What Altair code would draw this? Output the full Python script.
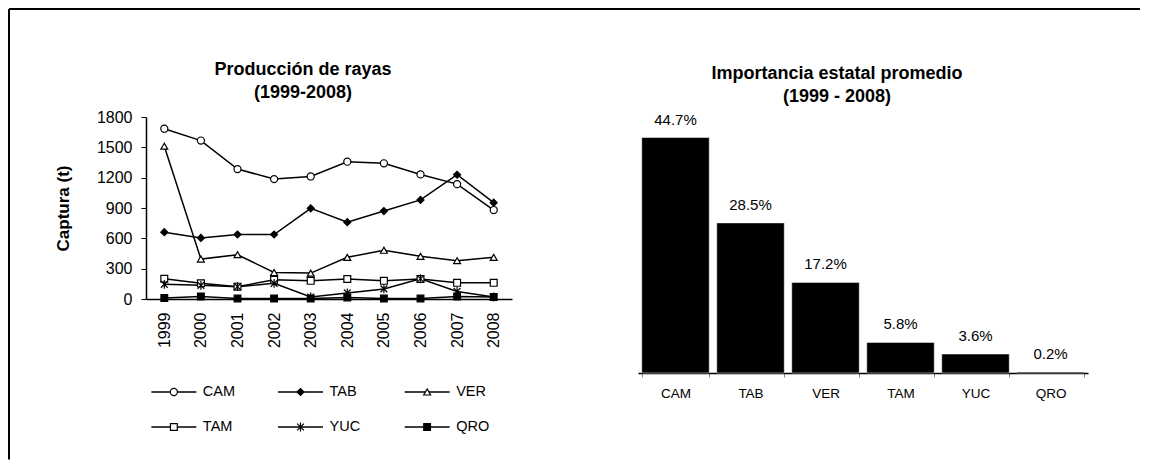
import altair as alt
import pandas as pd

years = ["1999", "2000", "2001", "2002", "2003", "2004", "2005", "2006", "2007", "2008"]
states = ["CAM", "TAB", "VER", "TAM", "YUC", "QRO"]

cam = [1684, 1567, 1285, 1186, 1212, 1358, 1342, 1232, 1136, 880]
tab = [661, 604, 638, 638, 897, 760, 870, 980, 1229, 953]
ver = [1511, 395, 438, 262, 256, 412, 482, 422, 379, 412]
tam = [200, 155, 122, 190, 180, 198, 180, 198, 160, 160]
yuc = [145, 135, 122, 155, 20, 60, 100, 200, 75, 20]
qro = [10, 25, 5, 5, 5, 15, 5, 5, 25, 20]

pct = [44.7, 28.5, 17.2, 5.8, 3.6, 0.2]
pct_labels = ["44.7%", "28.5%", "17.2%", "5.8%", "3.6%", "0.2%"]

FONT = "Liberation Sans"

series = [cam, tab, ver, tam, yuc, qro]
rows = []
for s, vals in zip(states, series):
    for yr, v in zip(years, vals):
        rows.append({"state": s, "year": yr, "captura": v})
df = pd.DataFrame(rows)

shape_scale = alt.Scale(
    domain=states,
    range=["circle", "diamond", "triangle-up", "square",
           "M-1,-1L1,1M-1,1L1,-1M0,-1.3L0,1.3", "square"],
)
fill_scale = alt.Scale(domain=states, range=["white", "black", "white", "white", "black", "black"])
size_scale = alt.Scale(domain=states, range=[50, 45, 55, 50, 50, 80])

x_line = alt.X(
    "year:O",
    scale=alt.Scale(type="point", padding=0.5),
    axis=alt.Axis(title=None, labelAngle=270, ticks=False, labelPadding=13,
                  domainColor="black", domainWidth=1.5, labelFontSize=16,
                  labelColor="black", labelFont=FONT),
)
y_line = alt.Y(
    "captura:Q",
    scale=alt.Scale(domain=[0, 1800]),
    axis=alt.Axis(title="Captura (t)", values=[0, 300, 600, 900, 1200, 1500, 1800],
                  format="d", grid=False, tickSize=5, tickColor="black",
                  domainColor="black", domainWidth=1.5, labelFontSize=16,
                  labelColor="black", labelPadding=9,
                  titleFontSize=17, titleFontWeight="bold", titlePadding=24,
                  titleColor="black", titleFont=FONT, labelFont=FONT),
)

base = alt.Chart(df)
lines = base.mark_line(color="black", strokeWidth=1.5).encode(
    x=x_line, y=y_line, detail="state:N"
)
points = base.mark_point(stroke="black", strokeWidth=1.2, opacity=1).encode(
    x=x_line, y=y_line,
    shape=alt.Shape("state:N", scale=shape_scale, legend=None),
    fill=alt.Fill("state:N", scale=fill_scale, legend=None),
    size=alt.Size("state:N", scale=size_scale, legend=None),
)

line_chart = alt.layer(lines, points).properties(
    width=366, height=182,
    title=alt.TitleParams(["Producción de rayas", "(1999-2008)"], fontSize=18,
                          fontWeight="bold", font=FONT, anchor="middle", frame="group",
                          dx=-26, offset=7, lineHeight=23, color="black"),
)

# legend panel (also carries the outer frame lines)
leg_df = pd.DataFrame({"state": states})
leg_base = alt.Chart(leg_df).transform_window(
    idx="row_number()"
).transform_calculate(
    col="(datum.idx - 1) % 3", row="floor((datum.idx - 1) / 3)"
)
lx = alt.X("col:O", scale=alt.Scale(type="point", padding=0.22), axis=None)
ly = alt.Y("row:O", scale=alt.Scale(type="point", padding=0.5), axis=None)
leg_line = leg_base.mark_point(shape="M-1,0L1,0", size=2025, stroke="black",
                               strokeWidth=1.5, filled=False, opacity=1).encode(x=lx, y=ly)
leg_mark = leg_base.mark_point(stroke="black", strokeWidth=1.2, opacity=1).encode(
    x=lx, y=ly,
    shape=alt.Shape("state:N", scale=shape_scale, legend=None),
    fill=alt.Fill("state:N", scale=fill_scale, legend=None),
    size=alt.Size("state:N", scale=size_scale, legend=None),
)
leg_text = leg_base.mark_text(align="left", baseline="middle", dx=29, fontSize=14.5,
                              font=FONT, color="black").encode(x=lx, y=ly, text="state:N")

one = pd.DataFrame({"k": [0]})
frame_top = alt.Chart(one).mark_rule(color="black", strokeWidth=2).encode(
    x=alt.value(-137), x2=alt.value(994), y=alt.value(-365.5)
)
frame_left = alt.Chart(one).mark_rule(color="black", strokeWidth=2).encode(
    x=alt.value(-137), y=alt.value(-365.5), y2=alt.value(85)
)
legend_chart = alt.layer(frame_top, frame_left, leg_line, leg_mark, leg_text).properties(
    width=309, height=70
)

# bar chart
bar_df = pd.DataFrame({"state": states, "pct": pct, "label": pct_labels})
bar_base = alt.Chart(bar_df).encode(
    x=alt.X("state:N", sort=states,
            scale=alt.Scale(paddingInner=0.1, paddingOuter=0.05),
            axis=alt.Axis(title=None, labelAngle=0, ticks=True, tickBand="extent",
                          tickSize=4, tickColor="#888888", domainColor="black",
                          domainWidth=1.5, labelFontSize=13.5, labelColor="black",
                          labelPadding=9, labelFont=FONT)),
    y=alt.Y("pct:Q", scale=alt.Scale(domain=[0, 48.6]), axis=None),
)
bars = bar_base.mark_bar(color="black", stroke="white", strokeWidth=0.5)
bar_text = bar_base.mark_text(baseline="alphabetic", dy=-13, fontSize=15, font=FONT,
                              color="black").encode(text="label:N")
bar_chart = alt.layer(bars, bar_text).properties(
    width=450, height=256,
    title=alt.TitleParams(["Importancia estatal promedio", "(1999 - 2008)"], fontSize=18,
                          fontWeight="bold", font=FONT, anchor="middle", frame="group",
                          dx=-26, offset=7, lineHeight=23, color="black"),
)

chart = alt.concat(
    line_chart, bar_chart, legend_chart,
    columns=2, bounds="flush", align="each",
    spacing={"row": 1.5, "column": 126},
).properties(padding=0).configure(
    font=FONT, view=alt.ViewConfig(stroke="transparent", strokeWidth=0)
)

chart.save("out.html", embed_options={"renderer": "svg", "actions": False})
